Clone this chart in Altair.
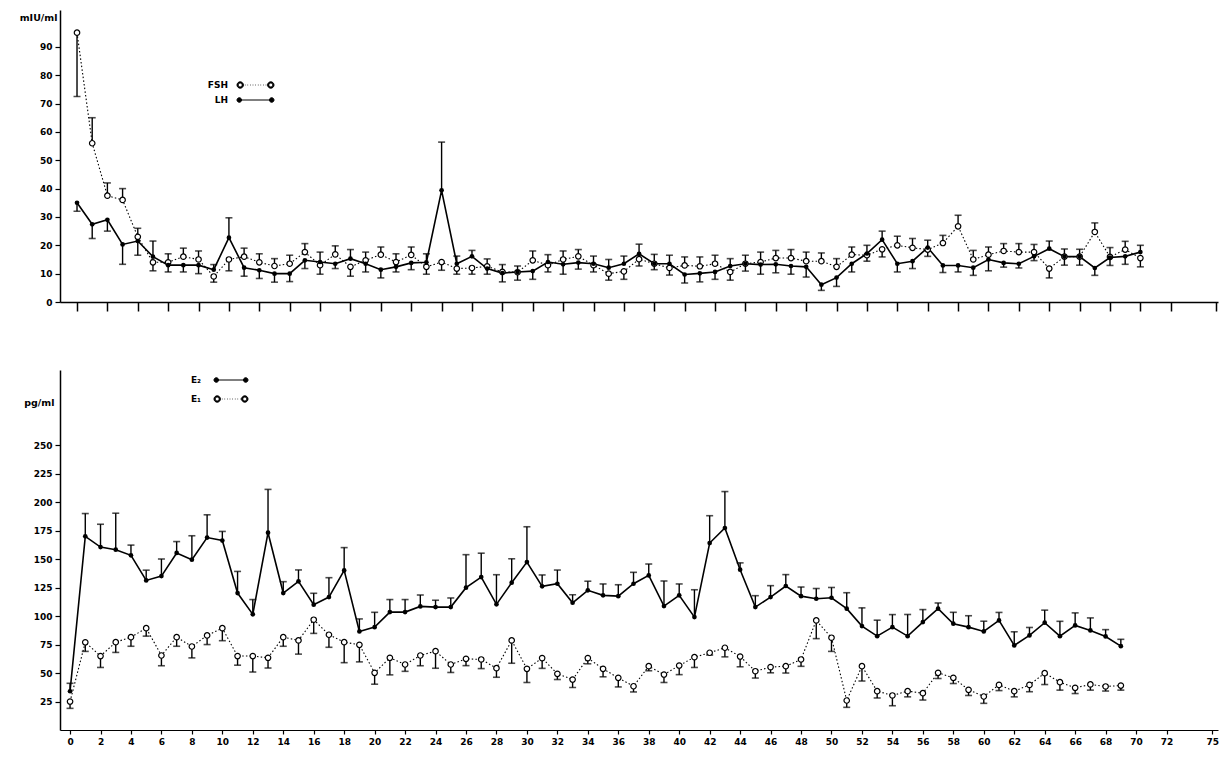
import altair as alt
import pandas as pd

# ---------------- data ----------------
days_top = list(range(71))
fsh = [95, 56, 37.5, 36, 23, 14, 14, 16, 15, 9, 15, 16, 14, 12.7, 13.5, 17.6, 13, 16.8, 12.4, 14.7,
       16.7, 14.1, 16.6, 12.4, 14.1, 11.8, 12, 12.6, 10.6, 10.5, 14.7, 13, 15, 16.1, 13, 10, 10.8, 15.1,
       13.5, 12, 12.9, 12.6, 13.5, 10.6, 13.5, 14.1, 15.5, 15.5, 14.4, 14.4, 12.4, 16.7, 16.5, 18.6,
       20, 19.1, 18.5, 20.8, 26.7, 15, 16.7, 18, 17.6, 17.6, 11.8, 16, 16, 24.7, 15.9, 18.5, 15.5]
fsh_err = [-22.5, 9, 4.5, 4, 3, -3, 3, 3, 3, -2, -4, 3, 3, 2.6, 3, 3, -3.2, 3, -3.3, 2.9,
           2.7, 2.9, 2.8, -2.6, -2.9, -2, -2.2, 2.6, 2.6, 2.2, 3.3, -2.4, 3, 2.4, -2.4, -2.3, -2.8, -2.4,
           -2.1, -2.5, 3, 3.3, 3, -2.9, -2.6, 3.5, 2.7, 3, 3.2, 2.9, 2.9, 2.7, -2.1, -2.7,
           3.2, 3.3, -2.4, 2.7, 3.9, 3.2, 2.7, 2.6, 3, 2.7, -3.3, -3, -3, 3.2, 3.3, 2.9, -3.1]
lh = [35, 27.4, 29, 20.3, 21.5, 16, 13, 13, 13, 11.4, 22.7, 12.1, 11.2, 10, 10, 14.7, 14.1, 13.5, 15.3,
      13.5, 11.4, 12.4, 13.8, 14, 39.4, 13.5, 16.1, 11.8, 10.2, 10.6, 10.9, 14.1, 13.3, 13.9, 13.5,
      12.1, 13.5, 17, 13.5, 13.5, 9.7, 10.1, 10.6, 12.7, 13.5, 13.2, 13.3, 12.7, 12.4, 6.1, 8.6, 13.5,
      17.1, 22, 13.5, 14.4, 19.2, 12.9, 12.9, 12.1, 15, 13.8, 13.5, 16.1, 18.8, 16, 16, 12, 15.7, 16.1, 17.6]
lh_err = [-3, -5, -4, -7, -5, 5.5, -2.4, -2.4, -3, 1.8, 7, -3, -2.9, -3, -2.8, -2.9, 3.5, -1.7, 3.2,
          -2.9, -2.9, -1.8, -2.4, 3, 17, 2.7, 2.1, -2, -3.1, -2.9, -2.9, 2.6, -3.5, -2.3, 2.7,
          2.9, 2.7, 3.4, 3.3, 3, -3, -3, -2.6, 2.6, 3, -3.4, -3, -2.9, -3.6, -2, -3.1, -2.9,
          2.9, 3, -2.9, -2.6, 2.6, -2.5, -2.3, -2.7, -4, -1.5, -1.5, -1.5, 2.7, 2.7, 2.6, -2.6, -2.8, -2.8, 2.4]

days_bottom = list(range(70))
e2 = [34, 170, 160.6, 158.3, 153.3, 131.3, 135.1, 155.4, 149.5, 168.9, 166.3, 120.2, 101.5, 173.2,
      120.2, 130.5, 110, 116.7, 140.1, 86.5, 90.3, 103.5, 103.5, 108.5, 107.9, 107.9, 124.9, 134.2,
      110.3, 129.3, 147.4, 126.1, 128.4, 111.7, 122.6, 118.2, 117.5, 128.4, 135.7, 108.8, 118.2, 99.1,
      164.1, 177.3, 140.7, 107.9, 116.7, 126.4, 117.5, 115.2, 116.1, 106.5, 91.2, 82.4, 90.3, 82.4,
      94.7, 106.5, 93.3, 90.3, 86.5, 96.2, 74.2, 83, 94.2, 82.4, 91.8, 87.4, 82.1, 73.6]
e2_err = [7, 20, 20, 32, 9, 9, 15, 10, 21, 20, 8, 19, 13, 38, 10, 10, 10, 17, 20, 11, 13, 11, 11, 10,
          6, 8, 29, 21, 26, 21, 31, 10, 12, 7, 8, 10, 10, 10, 10, 22, 10, 24, 24, 32, 6, 10, 10, 10,
          8, 9, 9, 14, 16, 14, 11, 19, 11, 5, 10, 10, 9, 7, 12, 7, 11, 13, 11, 11, 6, 6]
e1 = [25, 77, 64.9, 77.1, 81.5, 89.4, 65.4, 81.5, 73.3, 83, 89.4, 64.9, 64.9, 63.4, 81.5, 78.6, 96.8,
      83.6, 77.1, 74.8, 50.2, 63.4, 57.5, 65.4, 69.2, 57.5, 62.5, 61.9, 54.3, 78.6, 53.7, 63.1, 49.3,
      44.3, 63.1, 53.7, 45.8, 38.4, 56, 48.7, 56.6, 63.9, 67.8, 72.2, 64.5, 51.6, 55.2, 56, 61.9, 96.2,
      81, 25.9, 56, 34.1, 30.3, 34.1, 32.3, 50.2, 45.8, 35.3, 29.4, 39.6, 34.1, 39.6, 49.9, 42, 37, 40,
      38.2, 39]
e1_err = [-6, -8, -10, -9, -8, -7, -9, -8, -10, -8, -11, -8, -14, -9, -8, -12, -12, -11, -18, -15, -10,
          -15, -6, -9, -15, -7, -6, -8, -8, -20, -12, -9, -5, -7, -5, -7, -8, -5, -4, -7, -8, -9, -2,
          -8, -9, -6, -5, -6, -6, -16, -12, -6, -13, -6, -9, -5, -6, -5, -5, -5, -6, -5, -5, -6, -10,
          -7, -5, -5, -4, -4]

x_tick_values = list(range(0, 73, 2)) + [75]
top_y_ticks = list(range(0, 91, 10))
bottom_y_ticks = list(range(25, 251, 25))


def long_df(days, series):
    rows = []
    for name, vals, errs in series:
        for d, v, e in zip(days, vals, errs):
            rows.append({"day": d, "series": name, "value": v, "end": v + e})
    return pd.DataFrame(rows)


top_df = long_df(days_top, [("FSH", fsh, fsh_err), ("LH", lh, lh_err)])
bot_df = long_df(days_bottom, [("E₂", e2, e2_err), ("E₁", e1, e1_err)])

FONT = "DejaVu Sans"
UNIT = 5.0          # legend symbol unit in px (symbolSize = (2*UNIT)^2)
ENTRY = 11          # legend entry size = ceil(2*UNIT + stroke width)


# legend swatch "o·····o" / "•——•" as an SVG symbol path, drawn to the right of the label
def legend_path(start_px, length_px, r_px, open_circle, dotted):
    a = start_px / UNIT
    L = length_px / UNIT
    r = r_px / UNIT

    def ring(cx, rr, sweep):
        return (f"M{cx - rr:.3f},0a{rr:.3f},{rr:.3f} 0 1,{sweep} {2 * rr:.3f},0"
                f"a{rr:.3f},{rr:.3f} 0 1,{sweep} {-2 * rr:.3f},0")

    c1, c2 = a + r, a + L - r
    p = ring(c1, r, 0) + ring(c2, r, 0)
    if open_circle:
        ri = r * 0.62
        p += ring(c1, ri, 1) + ring(c2, ri, 1)
    s, e = c1 + r, c2 - r
    if dotted:
        xx = s + 0.3
        while xx < e - 0.2:
            p += f"M{xx:.3f},0h0.12"
            xx += 0.52
    else:
        p += f"M{s:.3f},0H{e:.3f}"
    return p


def panel(df, solid_name, dotted_name, order, x_domain, y_domain, y_ticks, width, height,
          show_x_labels, y_title, title_y, title_x, legend_x, legend_y, gap_px, sym_len, row_pad):
    x = alt.X("day:Q", scale=alt.Scale(domain=x_domain, nice=False, zero=False),
              axis=alt.Axis(values=x_tick_values, title=None, labels=show_x_labels,
                            tickSize=4 if show_x_labels else 9,
                            tickWidth=1.2 if show_x_labels else 1.5,
                            domainWidth=1 if show_x_labels else 1.5,
                            labelPadding=3, labelFlush=False, labelOverlap=False))
    yscale = alt.Scale(domain=y_domain, nice=False, zero=False)
    yaxis = alt.Axis(values=y_ticks, title=y_title, titleAngle=0, titleAlign="right",
                     titleBaseline="middle", titleX=title_x, titleY=title_y, tickSize=5,
                     labelPadding=3, domainWidth=1.5, tickWidth=1.2, labelFlush=False)
    y = alt.Y("value:Q", scale=yscale, axis=yaxis)

    base = alt.Chart(df)
    solid = base.transform_filter(alt.datum.series == solid_name)
    dotted = base.transform_filter(alt.datum.series == dotted_name)

    line_solid = solid.mark_line(color="black", strokeWidth=1.6).encode(x=x, y=y)
    line_dotted = dotted.mark_line(color="black", strokeWidth=1.1,
                                   strokeDash=[1.5, 2.2]).encode(x=x, y=y)
    bars = base.mark_rule(color="black", strokeWidth=1.4).encode(
        x=x, y=y, y2=alt.Y2("end:Q"))
    caps = base.mark_tick(color="black", orient="horizontal", size=7, thickness=1.6).encode(
        x=x, y=alt.Y("end:Q", scale=yscale, axis=yaxis))
    pts_open = dotted.mark_point(shape="circle", filled=True, fill="white", stroke="black",
                                 strokeWidth=1.2, size=30, opacity=1).encode(x=x, y=y)
    pts_solid = solid.mark_circle(color="black", size=22, opacity=1).encode(x=x, y=y)

    # label ends at ENTRY px from legend origin; symbol centre is at ENTRY/2
    start = ENTRY + gap_px - ENTRY / 2
    paths = {solid_name: legend_path(start, sym_len, 2.3, False, False),
             dotted_name: legend_path(start, sym_len, 3.2, True, True)}
    leg = alt.Legend(orient="none", legendX=legend_x, legendY=legend_y, title=None,
                     symbolSize=(2 * UNIT) ** 2, labelAlign="right",
                     labelOffset=0, symbolOffset=0, labelFont=FONT, labelFontSize=9,
                     labelFontWeight="bold", labelColor="black", rowPadding=row_pad, padding=0,
                     symbolStrokeWidth=1)
    legend_layer = base.transform_filter("false").mark_point(
        filled=True, fill="black", stroke="black", strokeWidth=1, opacity=1).encode(
        x=x, y=y,
        shape=alt.Shape("series:N", scale=alt.Scale(domain=order, range=[paths[s] for s in order]),
                        legend=leg))

    return alt.layer(line_dotted, line_solid, bars, caps, pts_open, pts_solid,
                     legend_layer).properties(width=width, height=height)


top = panel(top_df, "LH", "FSH", ["FSH", "LH"], [-1.12, 75.11], [0, 103], top_y_ticks,
            1158, 292, False, "mIU/ml", 7, -3, 157, 69.5, 9, 37, 4)
bottom = panel(bot_df, "E₂", "E₁", ["E₂", "E₁"], [-0.66, 75.38], [0, 316], bottom_y_ticks,
               1158, 360, True, "pg/ml", 32, -6, 130, 4.5, 13, 34, 8)

chart = alt.vconcat(top, bottom, spacing=58).resolve_scale(
    x="independent", y="independent", shape="independent"
).resolve_legend(shape="independent").properties(
    padding={"left": 11, "top": 2, "right": 2, "bottom": 2}, background="white"
).configure_view(stroke=None).configure_axis(
    labelFont=FONT, labelFontWeight="bold", labelFontSize=9, labelColor="black",
    titleFont=FONT, titleFontWeight="bold", titleFontSize=9.5, titleColor="black",
    domainColor="black", tickColor="black", grid=False
)

chart.save("out.html", embed_options={"renderer": "svg", "actions": False})
